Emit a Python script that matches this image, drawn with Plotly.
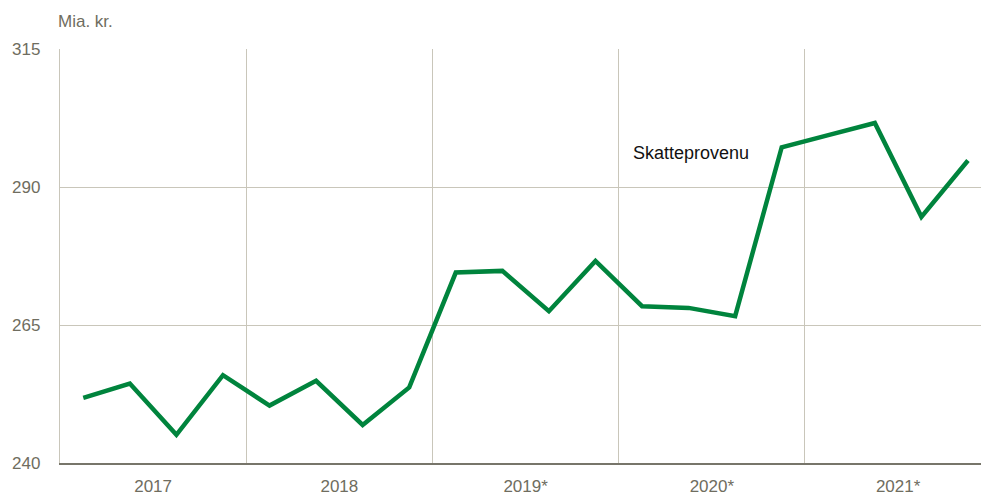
import plotly.graph_objects as go

quarters = list(range(20))
values = [251.8, 254.4, 245.1, 255.9, 250.4, 254.9, 246.9, 253.7,
          274.5, 274.8, 267.5, 276.6, 268.4, 268.1, 266.6, 297.2,
          299.4, 301.6, 284.6, 294.8]
year_labels = ["2017", "2018", "2019*", "2020*", "2021*"]
year_centers = [2, 6, 10, 14, 18]
year_bounds = [4, 8, 12, 16]
y_ticks = [240, 265, 290, 315]

x = [q + 0.5 for q in quarters]

font_fam = "Liberation Sans Narrow, Arial Narrow, Liberation Sans, Arial, sans-serif"
txt_col = "#6f6d60"
grid_col = "#c9c6ba"

fig = go.Figure()
fig.add_trace(go.Scatter(x=x, y=values, mode="lines",
                         line=dict(color="#00843d", width=4.5),
                         hoverinfo="skip", showlegend=False))

fig.add_annotation(x=12.26, y=296.2, xref="x", yref="y", text="Skatteprovenu",
                   showarrow=False, xanchor="left", yanchor="middle",
                   font=dict(family="Liberation Sans, Arial, sans-serif", size=18, color="#111111"))
fig.add_annotation(x=(56 - 60) / 921, y=(497 - 22 - 34) / 414, xref="paper", yref="paper",
                   text="Mia. kr.", showarrow=False, xanchor="left", yanchor="middle",
                   font=dict(family=font_fam, size=17, color=txt_col))

fig.update_layout(
    width=981, height=497,
    margin=dict(l=60, r=0, t=49, b=34, autoexpand=False),
    paper_bgcolor="white", plot_bgcolor="white",
    xaxis=dict(range=[0, 19.78], tickvals=year_centers, ticktext=year_labels,
               showgrid=False, zeroline=False, automargin=False,
               showline=True, linecolor="#77756a", linewidth=2,
               ticks="", ticklabelstandoff=7,
               tickfont=dict(family=font_fam, size=17, color=txt_col),
               minor=dict(tickvals=year_bounds, showgrid=True, gridcolor=grid_col,
                          gridwidth=1.3, ticks="")),
    yaxis=dict(range=[240, 315], tickvals=y_ticks, showgrid=True,
               gridcolor=grid_col, gridwidth=1.3, zeroline=False, automargin=False,
               showline=True, linecolor=grid_col, linewidth=1.3,
               ticks="", ticklabelstandoff=15,
               tickfont=dict(family=font_fam, size=17, color=txt_col)),
)

fig.write_html("out.html", config={"displayModeBar": False},
               post_script="document.body.style.margin='0';document.body.style.overflow='hidden';")
